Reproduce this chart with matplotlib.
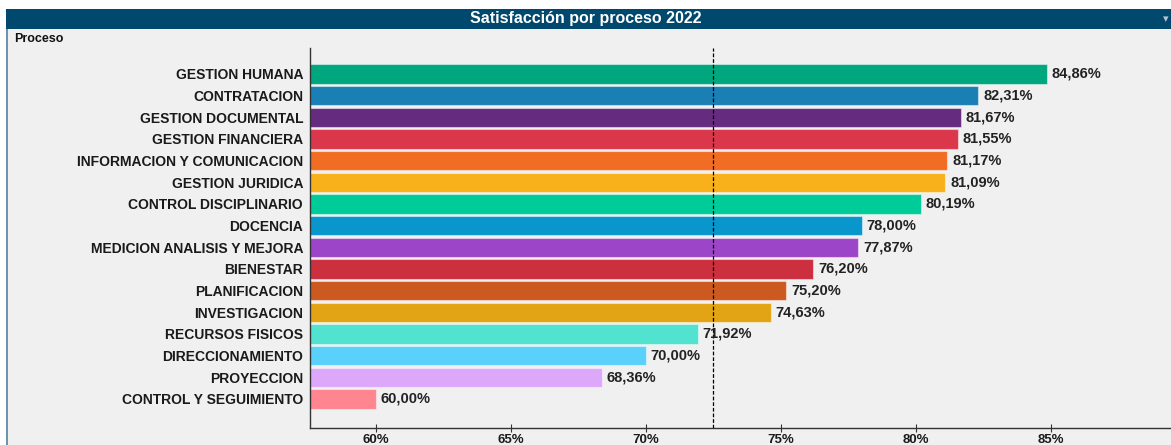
import matplotlib

matplotlib.use("Agg")
import matplotlib.pyplot as plt
from matplotlib.patches import Rectangle
from matplotlib.ticker import FixedLocator, FuncFormatter

plt.rcParams["font.family"] = ["Liberation Sans", "DejaVu Sans"]

procesos = [
    "GESTION HUMANA",
    "CONTRATACION",
    "GESTION DOCUMENTAL",
    "GESTION FINANCIERA",
    "INFORMACION Y COMUNICACION",
    "GESTION JURIDICA",
    "CONTROL DISCIPLINARIO",
    "DOCENCIA",
    "MEDICION ANALISIS Y MEJORA",
    "BIENESTAR",
    "PLANIFICACION",
    "INVESTIGACION",
    "RECURSOS FISICOS",
    "DIRECCIONAMIENTO",
    "PROYECCION",
    "CONTROL Y SEGUIMIENTO",
]
satisfaccion = [84.86, 82.31, 81.67, 81.55, 81.17, 81.09, 80.19, 78.00,
                77.87, 76.20, 75.20, 74.63, 71.92, 70.00, 68.36, 60.00]
colores = ["#00a77e", "#1a7fb5", "#652b7f", "#db374b", "#f26d24", "#f9b11b",
           "#00cc99", "#0896cc", "#9d45c8", "#cc2f3e", "#cc5a20", "#e3a414",
           "#52e2d0", "#5ad1fa", "#dea8fa", "#ff8690"]
referencia = 72.48
ticks = [60, 65, 70, 75, 80, 85]

W, H = 1171, 445
fig = plt.figure(figsize=(W / 100, H / 100), dpi=100)
fig.patch.set_facecolor("white")

# panel background, title bar and left border
fig.add_artist(Rectangle((6 / W, 0), 1 - 6 / W, 1 - 29 / H,
                         transform=fig.transFigure, facecolor="#f0f0f0",
                         edgecolor="none", zorder=0))
fig.add_artist(Rectangle((6 / W, 1 - 29 / H), 1 - 6 / W, 20 / H,
                         transform=fig.transFigure, facecolor="#00486d",
                         edgecolor="none", zorder=1))
fig.add_artist(Rectangle((6 / W, 0), 2 / W, 1 - 29 / H,
                         transform=fig.transFigure, facecolor="#6f93ab",
                         edgecolor="none", zorder=1))
fig.text(586 / W, 1 - 18.5 / H, "Satisfacción por proceso 2022", color="white",
         fontsize=11.5, fontweight="bold", ha="center", va="center")
fig.text(1166 / W, 1 - 19 / H, "▾", color="#b8c4cc", fontsize=8,
         ha="center", va="center", family=["DejaVu Sans"])
fig.text(14 / W, 1 - 39 / H, "Proceso", color="#111111", fontsize=9,
         fontweight="bold", ha="left", va="center")

ax = fig.add_axes([310 / W, 1 - 428 / H, 861 / W, 380 / H])
ax.set_facecolor("none")

y = list(range(len(procesos)))
ax.barh(y, satisfaccion, left=0, height=0.88, color=colores,
        edgecolor=(1, 1, 1, 0.45), linewidth=0.8, zorder=2)
for yi, v in zip(y, satisfaccion):
    ax.text(v + 0.18, yi, f"{v:.2f}%".replace(".", ","), va="center",
            ha="left", fontsize=10.5, fontweight="bold", color="#222222",
            zorder=4)

ax.axvline(referencia, color="black", linestyle=(0, (3, 1.5)), linewidth=0.9,
           zorder=3)

ax.set_xlim(57.56, 57.56 + 861 / 27)
ax.set_ylim(len(procesos) - 1 + 1.34, -1.2)
ax.set_yticks(y)
ax.set_yticklabels(procesos, fontsize=10, fontweight="bold", color="#1a1a1a")
ax.tick_params(axis="y", length=0, pad=5)
ax.xaxis.set_major_locator(FixedLocator(ticks))
ax.xaxis.set_major_formatter(FuncFormatter(lambda v, _: f"{v:.0f}%"))
ax.tick_params(axis="x", direction="inout", length=6, width=0.8,
               color="#333333", labelsize=9.5, pad=1)
for lab in ax.get_xticklabels():
    lab.set_fontweight("bold")
    lab.set_color("#1a1a1a")

for side in ("top", "right"):
    ax.spines[side].set_visible(False)
for side in ("left", "bottom"):
    ax.spines[side].set_color("#333333")
    ax.spines[side].set_linewidth(1.0)

fig.savefig("out.png", dpi=100)
plt.close(fig)
